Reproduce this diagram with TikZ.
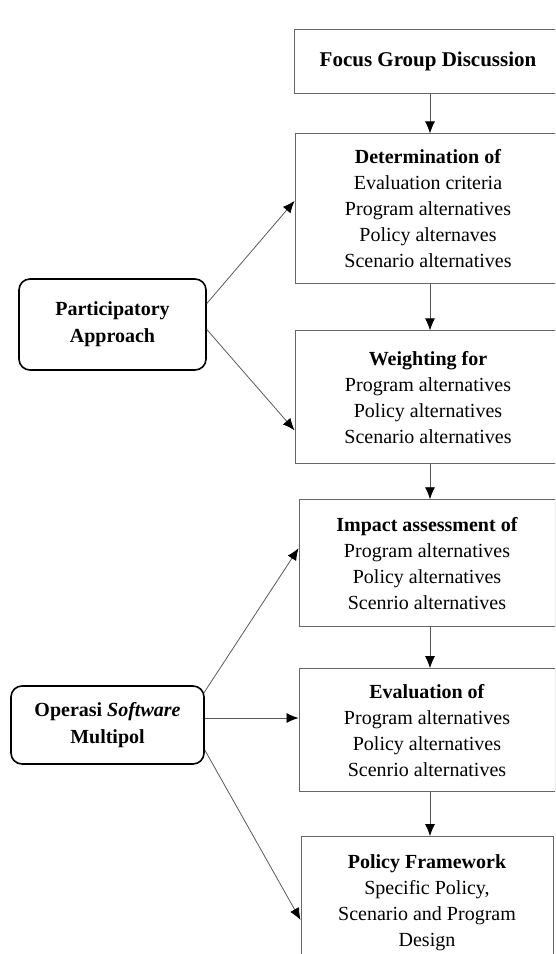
\documentclass[tikz,border=0pt]{standalone}
\usepackage{fontspec}
\setmainfont{Liberation Serif}
\usetikzlibrary{positioning,arrows.meta}

\begin{document}
\begin{tikzpicture}[x=1pt, y=1pt, node distance=40pt]
\tikzset{
    stage/.style={rectangle, draw=black!60, line width=0.9pt, text centered, align=center, font=\fontsize{20}{26}\selectfont},
    actor/.style={rectangle, rounded corners=11pt, draw=black, line width=1.6pt, text centered, align=center, font=\fontsize{20}{27}\selectfont\bfseries},
    flow/.style={draw=black!65, line width=0.8pt, -{Latex[length=12pt,width=10pt,color=black]}}
}
\clip (0,0) rectangle (555,-954);

% nodes
\node[stage, minimum width=268pt, minimum height=64pt, font=\fontsize{21}{26}\selectfont] (fgd) at (428,-61) {\textbf{Focus Group Discussion}};
\node[stage, minimum width=266pt, minimum height=150pt, below=40pt of fgd] (det) {\textbf{Determination of}\\Evaluation criteria\\Program alternatives\\Policy alternaves\\Scenario alternatives};
\node[stage, minimum width=266pt, minimum height=133pt, below=46pt of det] (wt) {\textbf{Weighting for}\\Program alternatives\\Policy alternatives\\Scenario alternatives};
\node[stage, minimum width=256pt, minimum height=127pt, below=35pt of wt, xshift=-1pt] (imp) {\textbf{Impact assessment of}\\Program alternatives\\Policy alternatives\\Scenrio alternatives};
\node[stage, minimum width=256pt, minimum height=123pt, below=41pt of imp] (eval) {\textbf{Evaluation of}\\Program alternatives\\Policy alternatives\\Scenrio alternatives};
\node[stage, minimum width=252pt, minimum height=133pt, below=44pt of eval] (pf) {\textbf{Policy Framework}\\Specific Policy,\\Scenario and Program\\Design};

\node[actor, minimum width=187pt, minimum height=91pt] (part) at (112.5,-324.5) {Participatory\\Approach};
\node[actor, minimum width=193pt, minimum height=78pt] (oper) at (107.5,-725) {Operasi \textit{Software}\\Multipol};

% arrows
\draw[flow] ([xshift=2pt]fgd.south) -- ([xshift=2pt]det.north);
\draw[flow] ([xshift=2pt]det.south) -- ([xshift=2pt]wt.north);
\draw[flow] ([xshift=2pt]wt.south) -- ([xshift=3pt]imp.north);
\draw[flow] ([xshift=3pt]imp.south) -- ([xshift=3pt]eval.north);
\draw[flow] ([xshift=3pt]eval.south) -- ([xshift=3pt]pf.north);

\draw[flow] ([yshift=21pt]part.east) -- ([yshift=8pt]det.west);
\draw[flow] ([yshift=-5pt]part.east) -- ([yshift=-33pt]wt.west);
\draw[flow] ([xshift=-1pt, yshift=32pt]oper.east) -- ([yshift=15pt]imp.west);
\draw[flow] ([yshift=7pt]oper.east) -- ([yshift=7pt]oper.east -| eval.west);
\draw[flow] ([yshift=-25pt]oper.east) -- ([yshift=-17pt]pf.west);

\end{tikzpicture}
\end{document}
